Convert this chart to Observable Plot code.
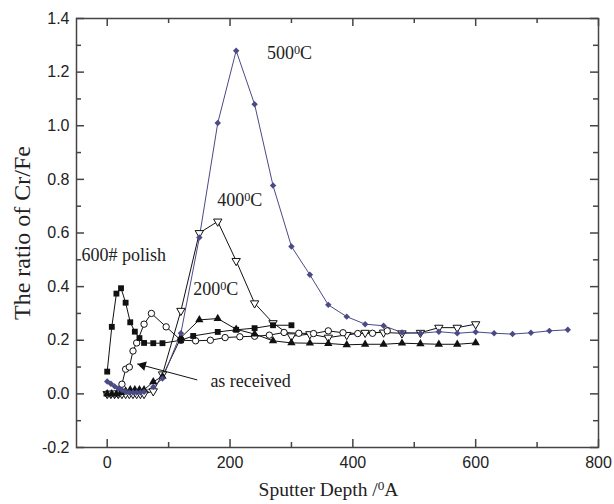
<!DOCTYPE html>
<html><head><meta charset="utf-8">
<script src="https://cdn.jsdelivr.net/npm/d3@7"></script>
<script src="https://cdn.jsdelivr.net/npm/@observablehq/plot@0.6"></script>
<style>body{margin:0;background:#fff}</style>
</head><body><div id="chart"></div>
<script>
// 600# polish (filled squares)
const polishX = [0,7.5,15,22.5,30,37.5,45,52.5,60,75,90,120,140,180,210,240,270,300];
const polishY = [0.083,0.25,0.374,0.394,0.34,0.267,0.232,0.208,0.19,0.189,0.189,0.20,0.216,0.231,0.239,0.245,0.256,0.256];
// as received (open circles)
const receivedX = [0,6,12,18,24,30,36,42,48,60,72,96,120,144,168,192,216,240,264,288,312,336,360,384,408,432,456];
const receivedY = [0,0,0,0,0.036,0.092,0.10,0.16,0.19,0.26,0.30,0.25,0.20,0.198,0.20,0.21,0.213,0.215,0.219,0.229,0.226,0.225,0.235,0.228,0.225,0.226,0.235];
// 200°C (filled triangles)
const t200X = [0,7.5,15,22.5,30,37.5,45,52.5,60,75,90,120,150,180,210,240,270,300,330,360,390,420,450,480,510,540,570,600];
const t200Y = [0,0,0,0.005,0.01,0.015,0.015,0.015,0.015,0.045,0.065,0.21,0.276,0.281,0.241,0.223,0.198,0.19,0.189,0.188,0.183,0.185,0.185,0.189,0.187,0.185,0.185,0.19];
// 400°C (open down triangles)
const t400X = [0,6,12,18,24,30,36,42,48,54,60,75,90,120,150,180,210,240,270,300,330,360,390,420,450,480,510,540,570,600];
const t400Y = [0,0,0,0,0,0,0,0,0,0,0,0.01,0.073,0.31,0.60,0.643,0.496,0.338,0.264,0.215,0.223,0.21,0.22,0.228,0.229,0.226,0.228,0.247,0.247,0.26];
// 500°C (diamonds)
const t500X = [0,6,12,18,24,30,36,42,48,54,60,75,90,120,150,180,210,240,270,300,330,360,390,420,450,480,510,540,570,600,630,660,690,720,750];
const t500Y = [0.046,0.038,0.028,0.02,0.014,0.008,0.005,0.005,0.005,0.005,0.008,0.026,0.057,0.226,0.583,1.01,1.28,1.08,0.777,0.55,0.444,0.332,0.288,0.26,0.254,0.229,0.226,0.232,0.226,0.231,0.226,0.223,0.228,0.235,0.239];

const xMajor = [0,200,400,600,800];
const xMinor = [100,300,500,700];
const yMajor = [-0.2,0,0.2,0.4,0.6,0.8,1.0,1.2,1.4];
const yMinor = [-0.1,0.1,0.3,0.5,0.7,0.9,1.1,1.3];

const labelText = ["500⁰C","400⁰C","200⁰C","600# polish","as received"];
const labelX = [260,179,140,-42,168];
const labelY = [1.25,0.70,0.37,0.496,0.026];

const arrowX1 = [146.6], arrowY1 = [0.052], arrowX2 = [48.9], arrowY2 = [0.112];

const yTitle = "The ratio of Cr/Fe";
const xTitle = "Sputter Depth /⁰A";

const rows = (xs, ys) => xs.map((x, i) => ({x, y: ys[i]}));
const polish = rows(polishX, polishY);
const received = rows(receivedX, receivedY);
const t200 = rows(t200X, t200Y);
const t400 = rows(t400X, t400Y);
const t500 = rows(t500X, t500Y);
const labels = labelText.map((t, i) => ({t, x: labelX[i], y: labelY[i]}));
const arrows = arrowX1.map((x1, i) => ({x1, y1: arrowY1[i], x2: arrowX2[i], y2: arrowY2[i]}));

const blk = "#111";
const blue = "#4a4a86";
const axc = "#444";
const serif = "Liberation Serif, Times New Roman, serif";
const sans = "Liberation Sans, Arial, sans-serif";
const xDom = [-50, 800], yDom = [-0.2, 1.4];
const fw = 522, fh = 429; // frame size in px (614-76-16, 504-18-57)
// tick lengths (8px major, 5px minor) expressed in data units
const kx = (xDom[1] - xDom[0]) / fw, ky = (yDom[1] - yDom[0]) / fh;
const maj = 8, mnr = 5;
const tk = {stroke: axc, strokeWidth: 1.5};

const chart = Plot.plot({
  width: 614, height: 504,
  marginLeft: 76, marginRight: 16, marginTop: 18, marginBottom: 57,
  x: {domain: xDom},
  y: {domain: yDom},
  style: {fontFamily: sans, fontSize: "16px", color: "#222", background: "#fff"},
  marks: [
    Plot.axisX(xMajor, {anchor: "bottom", tickSize: 0, tickPadding: 9, label: null, fontSize: 16, fontFamily: sans, tickFormat: d => String(d)}),
    Plot.axisY(yMajor, {anchor: "left", tickSize: 0, tickPadding: 7, label: null, fontSize: 16, fontFamily: sans, tickFormat: d => d.toFixed(1)}),
    Plot.ruleX(xMajor, {x: d => d, y1: yDom[0], y2: yDom[0] + maj * ky, ...tk}),
    Plot.ruleX(xMinor, {x: d => d, y1: yDom[0], y2: yDom[0] + mnr * ky, ...tk}),
    Plot.ruleX(xMajor, {x: d => d, y1: yDom[1], y2: yDom[1] - maj * ky, ...tk}),
    Plot.ruleX(xMinor, {x: d => d, y1: yDom[1], y2: yDom[1] - mnr * ky, ...tk}),
    Plot.ruleY(yMajor, {y: d => d, x1: xDom[0], x2: xDom[0] + maj * kx, ...tk}),
    Plot.ruleY(yMinor, {y: d => d, x1: xDom[0], x2: xDom[0] + mnr * kx, ...tk}),
    Plot.ruleY(yMajor, {y: d => d, x1: xDom[1], x2: xDom[1] - maj * kx, ...tk}),
    Plot.ruleY(yMinor, {y: d => d, x1: xDom[1], x2: xDom[1] - mnr * kx, ...tk}),
    Plot.frame({stroke: axc, strokeWidth: 1.5}),

    Plot.line(t400, {x: "x", y: "y", stroke: blk, strokeWidth: 1}),
    Plot.line(received, {x: "x", y: "y", stroke: blk, strokeWidth: 1}),
    Plot.line(t200, {x: "x", y: "y", stroke: blk, strokeWidth: 1}),
    Plot.line(polish, {x: "x", y: "y", stroke: blk, strokeWidth: 1}),
    Plot.line(t500, {x: "x", y: "y", stroke: blue, strokeWidth: 1}),

    Plot.dot(t400, {x: "x", y: "y", symbol: "triangle", rotate: 180, r: 3.1, fill: "#fff", stroke: blk, strokeWidth: 1}),
    Plot.dot(received, {x: "x", y: "y", symbol: "circle", r: 3.2, fill: "#fff", stroke: blk, strokeWidth: 1}),
    Plot.dot(t200, {x: "x", y: "y", symbol: "triangle", r: 3.1, fill: blk, stroke: "none"}),
    Plot.dot(polish, {x: "x", y: "y", symbol: "square", r: 3.3, fill: blk, stroke: "none"}),
    Plot.dot(t500, {x: "x", y: "y", symbol: "diamond2", r: 2.9, fill: blue, stroke: "none"}),

    Plot.link(arrows, {x1: "x1", y1: "y1", x2: "x2", y2: "y2", stroke: blk, strokeWidth: 1}),
    Plot.dot(arrows, {x: "x2", y: "y2", symbol: "triangle", r: 3.6, rotate: -75, dx: 5.6, dy: 1.5, fill: blk, stroke: "none"}),

    Plot.text(labels, {x: "x", y: "y", text: "t", textAnchor: "start", lineAnchor: "bottom", fontFamily: serif, fontSize: 18, fill: "#222"}),
    Plot.text([yTitle], {text: d => d, frameAnchor: "left", textAnchor: "middle", dx: -54, rotate: -90, fontFamily: serif, fontSize: 24, fill: "#222"}),
    Plot.text([xTitle], {text: d => d, frameAnchor: "bottom", textAnchor: "middle", dx: -9, dy: 48, fontFamily: serif, fontSize: 19.5, fill: "#222"})
  ]
});

// render the "⁰" as a raised small zero, as in the original figure
d3.select(chart).selectAll("text").each(function () {
  const t = this.textContent;
  if (!t.includes("⁰") || this.children.length) return;
  const [a, b] = t.split("⁰");
  const el = d3.select(this).text(null);
  el.append("tspan").text(a);
  el.append("tspan").attr("dy", "-0.42em").attr("font-size", "0.68em").text("0");
  el.append("tspan").attr("dy", "0.29em").text(b);
});
document.getElementById("chart").appendChild(chart);
</script>
</body></html>
